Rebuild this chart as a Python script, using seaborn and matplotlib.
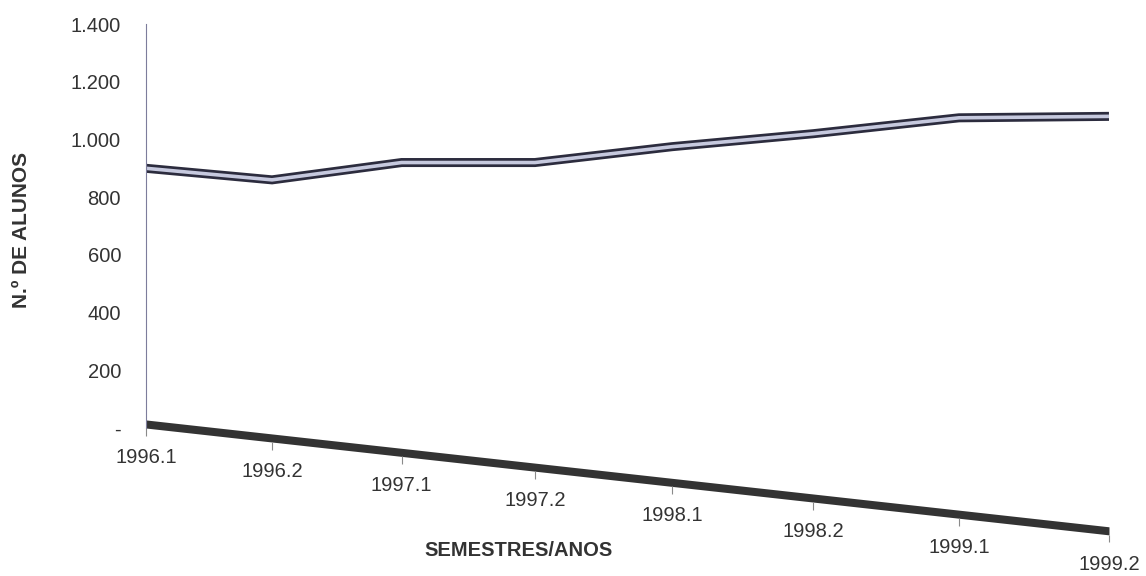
import numpy as np
import pandas as pd
import matplotlib
matplotlib.use('Agg')
import matplotlib.pyplot as plt
import matplotlib.transforms as mtransforms
import seaborn as sns

#-- Data:

semestres = ['1996.1', '1996.2', '1997.1', '1997.2', '1998.1', '1998.2', '1999.1', '1999.2']
alunos = [900, 860, 920, 920, 975, 1020, 1075, 1080]
y_ticks = [0, 200, 400, 600, 800, 1000, 1200, 1400]
y_labels = ['-', '200', '400', '600', '800', '1.000', '1.200', '1.400']

df = pd.DataFrame({'pos': np.arange(len(semestres)), 'semestre': semestres, 'alunos': alunos})

#-- Style:

sns.set_style('white')
plt.rcParams['font.family'] = ['Liberation Sans', 'DejaVu Sans']

fig = plt.figure(figsize=(11.46, 5.76), dpi=100)
ax = fig.add_axes([0.1274, 0.0665, 0.8403, 0.8918])

#- categories get wider towards the right (perspective of the 3D chart)
b = 0.0138
ax.set_xscale('function', functions=(lambda i: i / (1 - b * i), lambda u: u / (1 + b * u)))
ax.set_xlim(0, len(semestres) - 1)
ax.set_ylim(-380, 1400)

#- the floor / category axis is tilted downwards
shear = mtransforms.Affine2D(np.array([[1, 0, 0], [-0.208, 1, 0], [0, 0, 1]]))
floor_tr = ax.transData + ax.transAxes.inverted() + shear + ax.transAxes

#-- Floor band, ticks and labels:

ax.fill_between(df['pos'], 0, 28, color='#333333', lw=0, transform=floor_tr, clip_on=False)
ax.vlines(df['pos'], -26, 0, colors='#8a8a8a', lw=0.8, transform=floor_tr, clip_on=False)
for p, s in zip(df['pos'], df['semestre']):
    ax.text(p, -102, s, transform=floor_tr, ha='center', va='center', fontsize=14.5, color='#333333')

#-- Ribbon line:

sns.lineplot(data=df, x='pos', y='alunos', ax=ax, color='#2c2c3e', lw=6.5,
             solid_joinstyle='miter', solid_capstyle='butt')
sns.lineplot(data=df, x='pos', y='alunos', ax=ax, color='#c6c9de', lw=2.6,
             solid_joinstyle='miter', solid_capstyle='butt')

#-- Axes:

ax.set_xticks([])
ax.set_yticks(y_ticks)
ax.set_yticklabels(y_labels)
ax.set_xlabel('')
ax.set_ylabel('')
ax.tick_params(axis='y', length=5, width=0.8, color='#666666', pad=13, labelsize=14.5, labelcolor='#333333')
for side in ['top', 'right', 'bottom']:
    ax.spines[side].set_visible(False)
ax.spines['left'].set_bounds(0, 1400)
ax.spines['left'].set_color('#7d7d9c')
ax.spines['left'].set_linewidth(0.8)

fig.text(22 / 1146, 1 - 230 / 576, 'N.º DE ALUNOS', rotation=90, ha='center', va='center',
         fontsize=15, fontweight='bold', color='#333333')
fig.text(519 / 1146, 1 - 551 / 576, 'SEMESTRES/ANOS', ha='center', va='center',
         fontsize=14.5, fontweight='bold', color='#333333')

plt.savefig('out.png', dpi=100)
